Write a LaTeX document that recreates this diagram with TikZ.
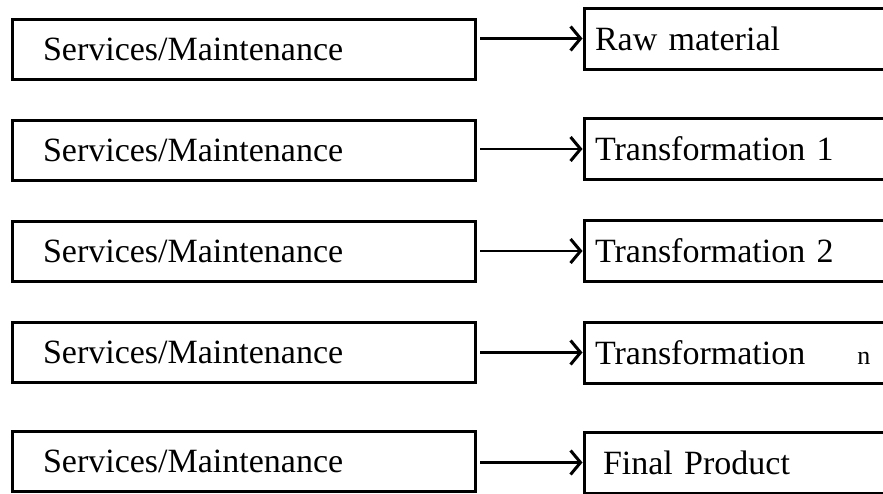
\documentclass[tikz,border=0pt]{standalone}
\usepackage{fontspec}
\setmainfont{Liberation Serif}
\usetikzlibrary{arrows.meta}

\tikzset{
  box/.style={draw, line width=3pt, rectangle, inner ysep=0pt,
    font=\fontsize{34}{36}\selectfont, align=left},
  srvbox/.style={box, minimum width=463pt, minimum height=60pt,
    inner xsep=31pt, text width=401pt},
  stagebox/.style={box, minimum width=416pt, minimum height=61pt,
    inner xsep=11pt, text width=394pt},
  flow/.style={line width=2.8pt, shorten <=3.5pt,
    -{Straight Barb[length=10pt,width=24pt,line width=3pt]}}
}

\begin{document}
\begin{tikzpicture}[x=1pt,y=-1pt]
  \useasboundingbox (0,0) rectangle (883,493);
  \clip (0,0) rectangle (883,493);

  % service / maintenance column
  \node[srvbox] (s1) at (243.5,49.5)  {Services/Maintenance};
  \node[srvbox] (s2) at (243.5,150)   {Services/Maintenance};
  \node[srvbox] (s3) at (243.5,251.5) {Services/Maintenance};
  \node[srvbox] (s4) at (243.5,352.5) {Services/Maintenance};
  \node[srvbox] (s5) at (243.5,461.5) {Services/Maintenance};

  % production stages (boxes run past the right edge)
  \node[stagebox] (p1) at (792,38.5)  {Raw material};
  \node[stagebox] (p2) at (792,149)   {Transformation 1};
  \node[stagebox] (p3) at (792,251)   {Transformation 2};
  \node[stagebox] (p4) at (792,352.5) {Transformation\hspace*{52pt}{\fontsize{26}{28}\selectfont n}};
  \node[stagebox] (p5) at (792,462.5) {\hspace*{8pt}Final Product};

  % connectors
  \foreach \i in {1,...,5}
    \draw[flow] (s\i.east |- p\i.west) -- (p\i.west);
\end{tikzpicture}
\end{document}
